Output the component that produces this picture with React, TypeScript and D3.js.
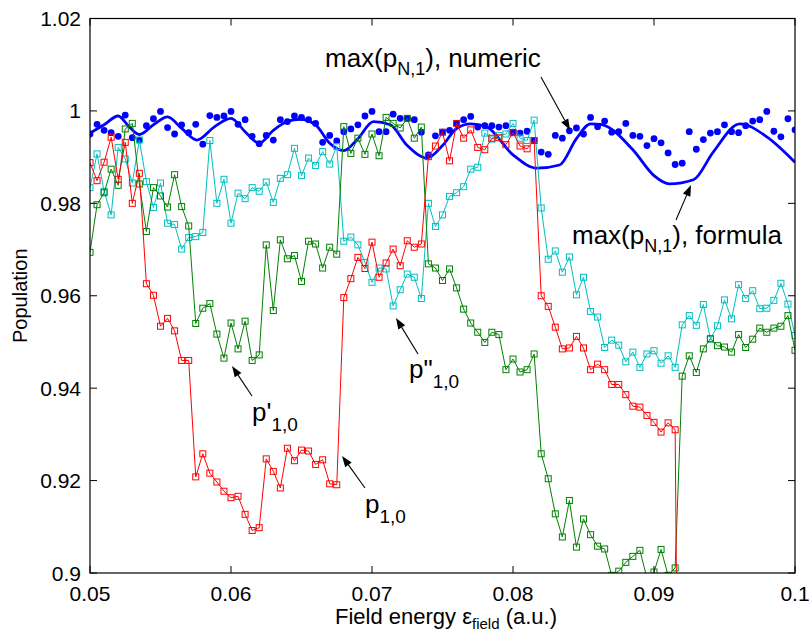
import React from 'react';
import * as d3 from 'd3';

// Field energy grid (a.u.): 0.05 .. 0.1 in steps of 0.0005
const X_START = 0.05;
const X_STEP = 0.0005;
const energies: number[] = d3.range(101).map((i) => +(X_START + i * X_STEP).toFixed(4));

// max(p_N,1), numeric (blue dots)
const pNumeric = [
  0.9950, 0.9971, 0.9958, 0.9953, 0.9945, 0.9991, 0.9942, 0.9937, 0.9968, 0.9983,
  0.9999, 0.9964, 0.9950, 0.9970, 0.9953, 0.9971, 0.9928, 0.9990, 0.9986, 0.9989,
  0.9999, 0.9971, 0.9981, 0.9945, 0.9929, 0.9947, 0.9937, 0.9981, 0.9977, 0.9989,
  0.9986, 0.9981, 0.9973, 0.9932, 0.9947, 0.9935, 0.9955, 0.9961, 0.9970, 0.9989,
  0.9999, 0.9955, 0.9955, 0.9993, 0.9984, 0.9984, 0.9981, 0.9954, 0.9905, 0.9946,
  0.9954, 0.9958, 0.9973, 0.9981, 0.9988, 0.9965, 0.9968, 0.9968, 0.9965, 0.9968,
  0.9954, 0.9952, 0.9956, 0.9936, 0.9911, 0.9906, 0.9947, 0.9941, 0.9957, 0.9963,
  0.9950, 0.9986, 0.9966, 0.9978, 0.9954, 0.9955, 0.9973, 0.9947, 0.9945, 0.9925,
  0.9940, 0.9931, 0.9909, 0.9884, 0.9887, 0.9955, 0.9917, 0.9938, 0.9952, 0.9955,
  0.9970, 0.9955, 0.9953, 0.9968, 0.9978, 0.9981, 0.9999, 0.9956, 0.9944, 0.9983,
  0.9959,
];

// p_1,0 (red) — the curve leaves the axes downward after index 83
const p10 = [
  0.9888, 0.9849, 0.9889, 0.9943, 0.9852, 0.9932, 0.9800, 0.9865, 0.9626, 0.9601,
  0.9534, 0.9551, 0.9524, 0.9460, 0.9460, 0.9208, 0.9258, 0.9216, 0.9197, 0.9177,
  0.9163, 0.9166, 0.9127, 0.9092, 0.9098, 0.9247, 0.9220, 0.9184, 0.9270, 0.9243,
  0.9266, 0.9264, 0.9235, 0.9245, 0.9193, 0.9191, 0.9596, 0.9637, 0.9683, 0.9659,
  0.9716, 0.9640, 0.9671, 0.9701, 0.9665, 0.9719, 0.9705, 0.9712, 0.9901, 0.9924,
  0.9954, 0.9892, 0.9973, 0.9941, 0.9959, 0.9921, 0.9916, 0.9941, 0.9942, 0.9927,
  0.9953, 0.9924, 0.9918, 0.9936, 0.9600, 0.9577, 0.9532, 0.9485, 0.9487, 0.9512,
  0.9487, 0.9440, 0.9452, 0.9440, 0.9408, 0.9408, 0.9386, 0.9361, 0.9359, 0.9341,
  0.9326, 0.9305, 0.9325, 0.9310, 0.7500,
];

// p'_1,0 (green)
const p10Prime = [
  0.9694, 0.9797, 0.9823, 0.9874, 0.9839, 0.9961, 0.9973, 0.9842, 0.9739, 0.9834,
  0.9816, 0.9792, 0.9862, 0.9793, 0.9751, 0.9540, 0.9573, 0.9583, 0.9517, 0.9465,
  0.9541, 0.9485, 0.9545, 0.9460, 0.9472, 0.9710, 0.9568, 0.9721, 0.9680, 0.9687,
  0.9631, 0.9718, 0.9712, 0.9660, 0.9705, 0.9690, 0.9966, 0.9908, 0.9941, 0.9906,
  0.9950, 0.9903, 0.9986, 0.9973, 0.9963, 0.9984, 0.9941, 0.9965, 0.9669, 0.9660,
  0.9633, 0.9658, 0.9617, 0.9571, 0.9541, 0.9521, 0.9499, 0.9521, 0.9516, 0.9440,
  0.9463, 0.9435, 0.9440, 0.9474, 0.9258, 0.9204, 0.9128, 0.9078, 0.9157, 0.9056,
  0.9117, 0.9083, 0.9058, 0.9052, 0.8995, 0.9004, 0.9023, 0.9036, 0.9049, 0.8989,
  0.9002, 0.9051, 0.8995, 0.9011, 0.9426, 0.9470, 0.9434, 0.9485, 0.9507, 0.9492,
  0.9489, 0.9478, 0.9516, 0.9488, 0.9506, 0.9530, 0.9521, 0.9530, 0.9534, 0.9557,
  0.9482,
];

// p"_1,0 (cyan)
const p10DoublePrime = [
  0.9834, 0.9907, 0.9826, 0.9775, 0.9921, 0.9896, 0.9844, 0.9937, 0.9847, 0.9791,
  0.9844, 0.9757, 0.9754, 0.9701, 0.9726, 0.9728, 0.9737, 0.9936, 0.9800, 0.9852,
  0.9757, 0.9822, 0.9810, 0.9834, 0.9826, 0.9846, 0.9802, 0.9854, 0.9862, 0.9919,
  0.9860, 0.9898, 0.9882, 0.9912, 0.9885, 0.9923, 0.9718, 0.9727, 0.9710, 0.9672,
  0.9629, 0.9660, 0.9658, 0.9578, 0.9613, 0.9647, 0.9640, 0.9594, 0.9800, 0.9750,
  0.9775, 0.9815, 0.9823, 0.9836, 0.9874, 0.9878, 0.9952, 0.9939, 0.9947, 0.9950,
  0.9973, 0.9941, 0.9936, 0.9980, 0.9790, 0.9679, 0.9697, 0.9651, 0.9684, 0.9602,
  0.9640, 0.9566, 0.9554, 0.9488, 0.9504, 0.9493, 0.9457, 0.9478, 0.9445, 0.9474,
  0.9481, 0.9454, 0.9470, 0.9445, 0.9537, 0.9557, 0.9536, 0.9581, 0.9506, 0.9535,
  0.9591, 0.9550, 0.9624, 0.9594, 0.9611, 0.9572, 0.9573, 0.9590, 0.9627, 0.9582,
  0.9514,
];

// max(p_N,1), formula (blue curve) — read at its turning points
const formulaX = [
  0.0500, 0.0510, 0.0520, 0.0528, 0.0535, 0.0545, 0.0555, 0.0565, 0.0576, 0.0588,
  0.0600, 0.0610, 0.0620, 0.0630, 0.0640, 0.0649, 0.0660, 0.0670, 0.0680, 0.0690,
  0.0701, 0.0713, 0.0725, 0.0739, 0.0750, 0.0760, 0.0770, 0.0781, 0.0800, 0.0817,
  0.0833, 0.0845, 0.0855, 0.0862, 0.0885, 0.0900, 0.0911, 0.0928, 0.0942, 0.0961,
  0.0980, 0.1000,
];
const formulaY = [
  0.9952, 0.9970, 0.9989, 0.9965, 0.9949, 0.9970, 0.9987, 0.9962, 0.9937, 0.9965,
  0.9984, 0.9955, 0.9930, 0.9958, 0.9977, 0.9982, 0.9970, 0.9930, 0.9914, 0.9940,
  0.9977, 0.9970, 0.9925, 0.9898, 0.9925, 0.9962, 0.9972, 0.9966, 0.9905, 0.9876,
  0.9883, 0.9940, 0.9972, 0.9971, 0.9916, 0.9860, 0.9842, 0.9851, 0.9911, 0.9972,
  0.9944, 0.9889,
];

const xTicks = [0.05, 0.06, 0.07, 0.08, 0.09, 0.1];
const xTickLabels = ['0.05', '0.06', '0.07', '0.08', '0.09', '0.1'];
const yTicks = [0.9, 0.92, 0.94, 0.96, 0.98, 1.0, 1.02];
const yTickLabels = ['0.9', '0.92', '0.94', '0.96', '0.98', '1', '1.02'];

const W = 809;
const H = 637;
const L = 90;
const R = 795;
const T = 18.5;
const B = 573;

const RED = '#ff0000';
const GREEN = '#008000';
const CYAN = '#00bfbf';
const BLUE = '#0000ff';
const FONT = "'Liberation Sans', Arial, Helvetica, sans-serif";

function Arrow({ x1, y1, x2, y2 }: { x1: number; y1: number; x2: number; y2: number }) {
  const ang = Math.atan2(y2 - y1, x2 - x1);
  const len = 11;
  const half = 4;
  const bx = x2 - len * Math.cos(ang);
  const by = y2 - len * Math.sin(ang);
  const px = -Math.sin(ang) * half;
  const py = Math.cos(ang) * half;
  return (
    <g>
      <line x1={x1} y1={y1} x2={bx} y2={by} stroke="#000" strokeWidth={1.1} />
      <path d={`M${x2},${y2}L${bx + px},${by + py}L${bx - px},${by - py}Z`} fill="#000" />
    </g>
  );
}

export default function App() {
  const x = d3.scaleLinear().domain([0.05, 0.1]).range([L, R]);
  const y = d3.scaleLinear().domain([0.9, 1.02]).range([B, T]);

  const line = d3
    .line<[number, number]>()
    .x((d) => x(d[0]))
    .y((d) => y(d[1]));
  const smooth = d3
    .line<[number, number]>()
    .x((d) => x(d[0]))
    .y((d) => y(d[1]))
    .curve(d3.curveMonotoneX);

  const pairs = (vals: number[]) => vals.map((v, i) => [energies[i], v] as [number, number]);
  const series = [
    { vals: p10DoublePrime, color: CYAN },
    { vals: p10Prime, color: GREEN },
    { vals: p10, color: RED },
  ];
  const formulaPts = formulaX.map((fx, i) => [fx, formulaY[i]] as [number, number]);

  const tickLen = 7;

  return (
    <svg
      width={W}
      height={H}
      style={{ position: 'absolute', left: 0, top: 0, background: '#fff' }}
      fontFamily={FONT}
    >
      <defs>
        <clipPath id="plotArea">
          <rect x={L} y={T} width={R - L} height={B - T} />
        </clipPath>
      </defs>
      <rect x={0} y={0} width={W} height={H} fill="#fff" />

      <g clipPath="url(#plotArea)">
        <path d={smooth(formulaPts) || ''} fill="none" stroke={BLUE} strokeWidth={2.8} />
        {pNumeric.map((v, i) => (
          <circle key={'n' + i} cx={x(energies[i])} cy={y(v)} r={3.4} fill={BLUE} />
        ))}
        {series.map((s, si) => (
          <g key={'s' + si}>
            <path d={line(pairs(s.vals)) || ''} fill="none" stroke={s.color} strokeWidth={1} />
            {s.vals.map((v, i) => (
              <rect
                key={i}
                x={x(energies[i]) - 3}
                y={y(v) - 3}
                width={6}
                height={6}
                fill="none"
                stroke={s.color}
                strokeWidth={1}
              />
            ))}
          </g>
        ))}
      </g>

      {/* axes box */}
      <rect x={L} y={T} width={R - L} height={B - T} fill="none" stroke="#000" strokeWidth={1.2} />
      {xTicks.map((t, i) => (
        <g key={'xt' + i}>
          <line x1={x(t)} x2={x(t)} y1={B} y2={B - tickLen} stroke="#000" strokeWidth={1} />
          <line x1={x(t)} x2={x(t)} y1={T} y2={T + tickLen} stroke="#000" strokeWidth={1} />
          <text x={x(t)} y={601} fontSize={21} textAnchor="middle" fill="#000">
            {xTickLabels[i]}
          </text>
        </g>
      ))}
      {yTicks.map((t, i) => (
        <g key={'yt' + i}>
          <line x1={L} x2={L + tickLen} y1={y(t)} y2={y(t)} stroke="#000" strokeWidth={1} />
          <line x1={R} x2={R - tickLen} y1={y(t)} y2={y(t)} stroke="#000" strokeWidth={1} />
          <text x={81} y={y(t) + 7.5} fontSize={21} textAnchor="end" fill="#000">
            {yTickLabels[i]}
          </text>
        </g>
      ))}

      {/* axis labels */}
      <text x={446} y={624} fontSize={22} textAnchor="middle" fill="#000">
        Field energy ε<tspan fontSize={15} dy={5}>field</tspan>
        <tspan dy={-5}> (a.u.)</tspan>
      </text>
      <text
        transform={`translate(27,${(T + B) / 2}) rotate(-90)`}
        fontSize={20}
        textAnchor="middle"
        fill="#000"
      >
        Population
      </text>

      {/* annotations */}
      <text x={325} y={67} fontSize={26} fill="#000">
        max(p<tspan fontSize={18} dy={8}>N,1</tspan>
        <tspan dy={-8}>), numeric</tspan>
      </text>
      <Arrow x1={541} y1={77} x2={570} y2={130} />

      <text x={572} y={244} fontSize={26} fill="#000">
        max(p<tspan fontSize={18} dy={8}>N,1</tspan>
        <tspan dy={-8}>), formula</tspan>
      </text>
      <Arrow x1={676} y1={220} x2={691} y2={185} />

      <text x={252} y={421} fontSize={26} fill="#000">
        p'<tspan fontSize={19} dy={10}>1,0</tspan>
      </text>
      <Arrow x1={252} y1={396} x2={232} y2={366} />

      <text x={409} y={378} fontSize={26} fill="#000">
        p"<tspan fontSize={19} dy={10}>1,0</tspan>
      </text>
      <Arrow x1={418} y1={354} x2={396} y2={318} />

      <text x={365} y={513} fontSize={26} fill="#000">
        p<tspan fontSize={19} dy={10}>1,0</tspan>
      </text>
      <Arrow x1={365} y1={488} x2={342} y2={456} />
    </svg>
  );
}
